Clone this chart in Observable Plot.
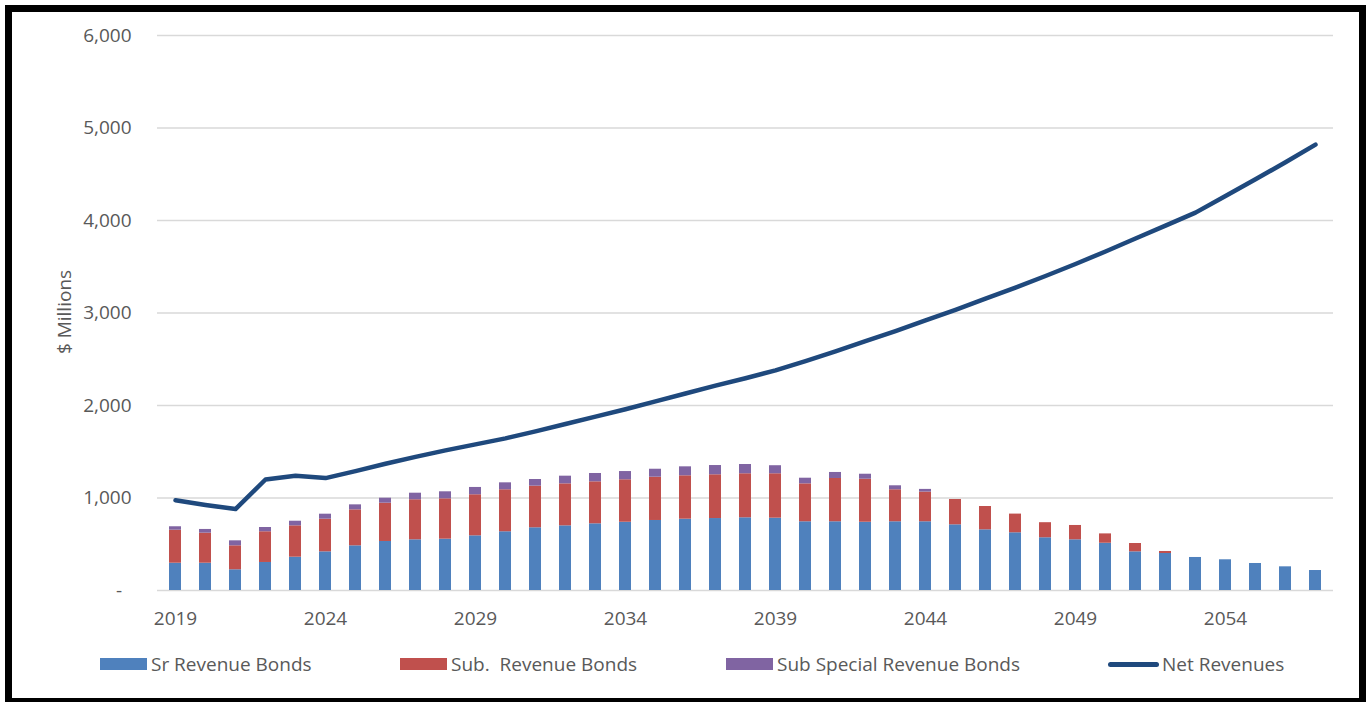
<!DOCTYPE html>
<html>
<head>
<meta charset="utf-8">
<script src="https://cdn.jsdelivr.net/npm/d3@7"></script>
<script src="https://cdn.jsdelivr.net/npm/@observablehq/plot@0.6"></script>
<style>
  body { margin: 0; background: #fff; font-family: "Open Sans", sans-serif; }
  #wrap { position: relative; width: 1368px; height: 702px; overflow: hidden; background: #fff; }
  #chart { position: absolute; left: 0; top: 0; }
  #frame { position: absolute; left: 5px; top: 5px; width: 1361px; height: 700px; border: 7px solid #000; box-sizing: border-box; pointer-events: none; }
  #ylabel { position: absolute; left: 64px; top: 312px; transform: translate(-50%, -50%) rotate(-90deg); font-size: 19px; color: #595959; white-space: nowrap; }
  .leg { position: absolute; top: 664px; transform: translateY(-50%); display: flex; align-items: center; font-size: 19px; color: #595959; white-space: nowrap; }
  .sw { width: 47px; height: 12px; margin-right: 4px; }
  .swl { width: 51px; height: 5px; border-radius: 3px; margin-right: 3px; }
</style>
</head>
<body>
<div id="wrap">
  <div id="chart"></div>
  <div id="ylabel">$ Millions</div>
  <div id="legend"></div>
  <div id="frame"></div>
</div>
<script>
// Categories
const years = [2019,2020,2021,2022,2023,2024,2025,2026,2027,2028,
               2029,2030,2031,2032,2033,2034,2035,2036,2037,2038,
               2039,2040,2041,2042,2043,2044,2045,2046,2047,2048,
               2049,2050,2051,2052,2053,2054,2055,2056,2057];

// Series ($ millions)
const srRevenueBonds = [295,295,224,303,360,418,483,530,548,555,
                        591,635,678,699,721,738,757,771,778,786,
                        782,743,743,738,743,743,710,656,624,570,
                        548,511,418,400,357,332,292,256,216];
const subRevenueBonds = [357,325,259,332,339,353,389,414,433,436,
                         444,454,450,454,454,459,468,469,473,476,
                         480,410,468,465,346,321,274,252,202,163,
                         155,101,90,22,0,0,0,0,0];
const subSpecialRevenueBonds = [37,40,54,46,50,54,54,54,71,76,
                                79,75,72,83,90,89,86,97,100,100,
                                87,61,65,54,43,29,0,0,0,0,
                                0,0,0,0,0,0,0,0,0];
const netRevenues = [975,925,880,1200,1240,1215,1290,1370,1445,1515,
                     1580,1645,1720,1800,1880,1960,2045,2130,2215,2295,
                     2380,2480,2585,2695,2805,2920,3035,3155,3275,3400,
                     3530,3665,3805,3945,4085,4265,4445,4630,4820];

// Tick labels
const xTickYears = [2019,2024,2029,2034,2039,2044,2049,2054];
const yTickValues = [0,1000,2000,3000,4000,5000,6000];

const seriesNames = ["Sr Revenue Bonds", "Sub.  Revenue Bonds", "Sub Special Revenue Bonds"];
const lineName = "Net Revenues";
const seriesColors = ["#4F81BD", "#C0504D", "#8064A2"];
const lineColor = "#1F497D";

const seriesValues = [srRevenueBonds, subRevenueBonds, subSpecialRevenueBonds];
const barRows = [];
years.forEach((yr, i) => {
  seriesNames.forEach((s, k) => {
    const v = seriesValues[k][i];
    if (v > 0) barRows.push({year: yr, series: s, value: v});
  });
});
const lineRows = years.map((yr, i) => ({year: yr, value: netRevenues[i]}));

const chart = Plot.plot({
  width: 1368,
  height: 640,
  marginTop: 35,
  marginBottom: 50,
  marginLeft: 157,
  marginRight: 35,
  style: {fontFamily: "'Open Sans', sans-serif", fontSize: "19px", color: "#595959", background: "transparent"},
  x: {type: "band", domain: years, paddingInner: 0.6, paddingOuter: 0.3, label: null},
  y: {domain: [0, 6000], label: null},
  color: {domain: seriesNames, range: seriesColors},
  marks: [
    Plot.gridY(yTickValues, {stroke: "#d9d9d9", strokeOpacity: 1, strokeWidth: 1.3}),
    Plot.barY(barRows, {x: "year", y: "value", fill: "series"}),
    Plot.line(lineRows, {x: "year", y: "value", stroke: lineColor, strokeWidth: 4.5, strokeLinecap: "round", strokeLinejoin: "round"}),
    Plot.axisX(xTickYears, {tickSize: 0, tickPadding: 21, fill: "#595959", fontSize: 19, label: null,
      tickFormat: d => String(d)}),
    Plot.axisY(yTickValues, {tickSize: 0, tickPadding: 26, fill: "#595959", fontSize: 19, label: null,
      tickFormat: d => d === 0 ? "-\u2002" : d3.format(",")(d)})
  ]
});
document.getElementById("chart").appendChild(chart);

// Legend
const legend = document.getElementById("legend");
const legendItems = [
  {name: seriesNames[0], color: seriesColors[0], left: 100, line: false},
  {name: seriesNames[1], color: seriesColors[1], left: 400, line: false},
  {name: seriesNames[2], color: seriesColors[2], left: 726, line: false},
  {name: lineName, color: lineColor, left: 1108, line: true}
];
legendItems.forEach(it => {
  const d = document.createElement("div");
  d.className = "leg";
  d.style.left = it.left + "px";
  const sw = document.createElement("div");
  sw.className = it.line ? "swl" : "sw";
  sw.style.background = it.color;
  const t = document.createElement("span");
  t.textContent = it.name;
  t.style.whiteSpace = "pre";
  d.appendChild(sw);
  d.appendChild(t);
  legend.appendChild(d);
});
</script>
</body>
</html>
